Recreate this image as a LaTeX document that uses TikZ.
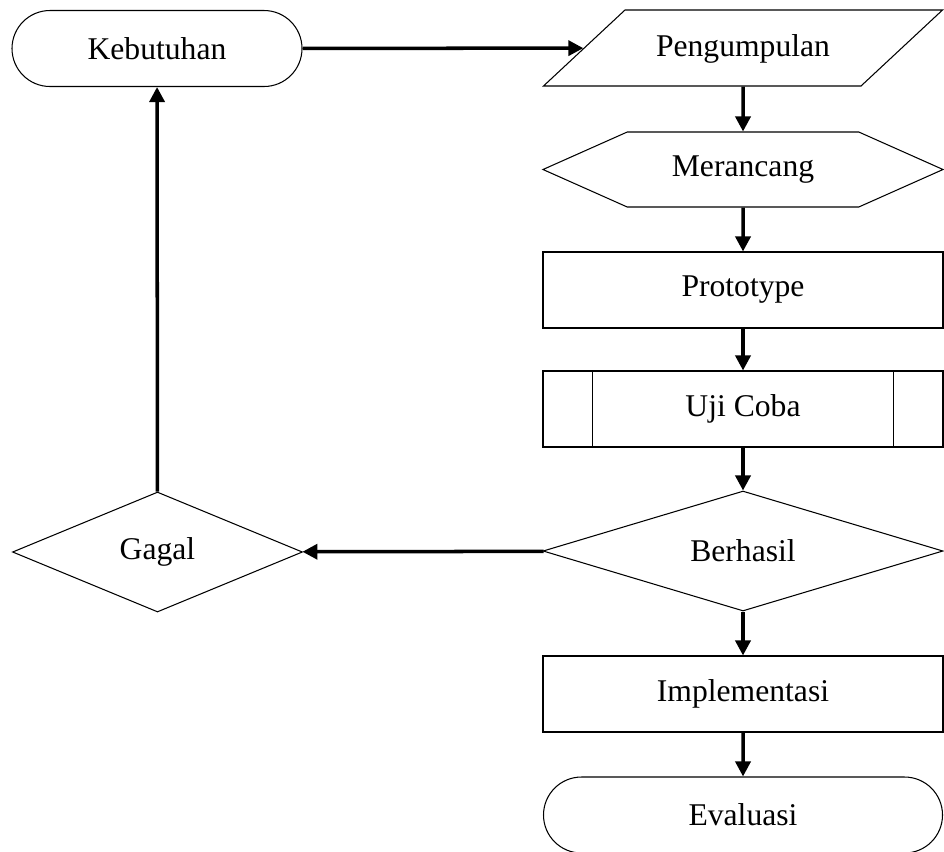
\documentclass[tikz,border=0pt]{standalone}
\usepackage{fontspec}
\setmainfont{Liberation Serif}
\usetikzlibrary{shapes.geometric,shapes.misc,shapes.symbols,arrows.meta}

\tikzset{
  box/.style={draw,line width=0.6pt,inner sep=0pt,font=\fontsize{18}{22}\selectfont},
  terminal/.style={box,rounded rectangle,minimum height=1.52cm},
  inout/.style={box,trapezium,trapezium stretches body=true,trapezium left angle=43,
    trapezium right angle=137,text height=0.5cm,text depth=0.15cm,inner ysep=0.435cm,
    minimum width=7.98cm},
  prep/.style={box,signal,signal to=west and east,signal pointer angle=48,
    minimum width=8cm,minimum height=1.5cm},
  proc/.style={box,rectangle,minimum width=8cm,minimum height=1.52cm},
  decision/.style={box,diamond,minimum height=2.4cm},
  flow/.style={line width=2pt,-{Triangle[length=0.3cm,width=0.3cm]}}
}

\begin{document}
\begin{tikzpicture}
  \useasboundingbox (0,0) rectangle (18.88,-17.02);
  \node[terminal,minimum width=5.8cm] (keb) at (3.14,-0.97) {Kebutuhan};
  \node[inout] (peng) at (14.86,-0.96) {Pengumpulan};
  \node[prep] (mer) at (14.86,-3.39) {Merancang};
  \node[proc] (proto) at (14.86,-5.8) {Prototype};
  \node[proc] (uji) at (14.86,-8.18) {Uji Coba};
  \draw[line width=0.6pt] ([xshift=1cm]uji.north west) -- ([xshift=1cm]uji.south west);
  \draw[line width=0.6pt] ([xshift=-1cm]uji.north east) -- ([xshift=-1cm]uji.south east);
  \node[decision,minimum width=8cm,aspect=3.33] (ber) at (14.86,-11.02) {Berhasil};
  \node[decision,minimum width=5.8cm,aspect=2.42] (gagal) at (3.15,-11.04) {Gagal};
  \node[proc] (impl) at (14.86,-13.88) {Implementasi};
  \node[terminal,minimum width=7.98cm] (eval) at (14.86,-16.3) {Evaluasi};

  \draw[flow] (keb) -- (peng);
  \draw[flow] (peng) -- (mer);
  \draw[flow] (mer) -- (proto);
  \draw[flow] (proto) -- (uji);
  \draw[flow] (uji) -- (ber);
  \draw[flow] (ber) -- (gagal);
  \draw[flow] (gagal) -- (keb);
  \draw[flow] (ber) -- (impl);
  \draw[flow] (impl) -- (eval);
\end{tikzpicture}
\end{document}
